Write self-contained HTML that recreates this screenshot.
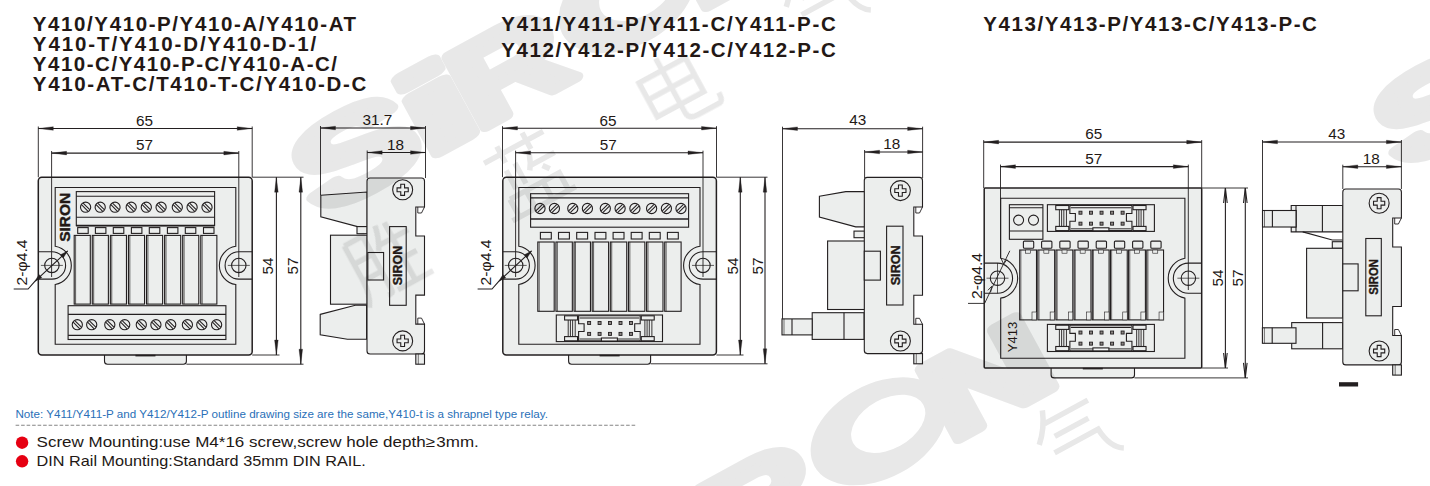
<!DOCTYPE html>
<html><head><meta charset="utf-8"><style>
html,body{margin:0;padding:0;background:#fff;overflow:hidden}
svg{display:block}
text{font-family:"Liberation Sans",sans-serif}
</style></head><body>
<svg width="1430" height="486" viewBox="0 0 1430 486">
<rect width="1430" height="486" fill="#fff"/>
<text x="32.8" y="31.1" font-family="Liberation Sans" font-weight="bold" font-size="20.5" fill="#231815" textLength="323.3" lengthAdjust="spacing">Y410/Y410-P/Y410-A/Y410-AT</text>
<text x="32.8" y="51.1" font-family="Liberation Sans" font-weight="bold" font-size="20.5" fill="#231815" textLength="283.5" lengthAdjust="spacing">Y410-T/Y410-D/Y410-D-1/</text>
<text x="32.8" y="71.3" font-family="Liberation Sans" font-weight="bold" font-size="20.5" fill="#231815" textLength="304.2" lengthAdjust="spacing">Y410-C/Y410-P-C/Y410-A-C/</text>
<text x="32.8" y="91.2" font-family="Liberation Sans" font-weight="bold" font-size="20.5" fill="#231815" textLength="333.4" lengthAdjust="spacing">Y410-AT-C/T410-T-C/Y410-D-C</text>
<text x="501.2" y="31.3" font-family="Liberation Sans" font-weight="bold" font-size="20.5" fill="#231815" textLength="334.6" lengthAdjust="spacing">Y411/Y411-P/Y411-C/Y411-P-C</text>
<text x="501.2" y="56.5" font-family="Liberation Sans" font-weight="bold" font-size="20.5" fill="#231815" textLength="334.6" lengthAdjust="spacing">Y412/Y412-P/Y412-C/Y412-P-C</text>
<text x="983.3" y="31.3" font-family="Liberation Sans" font-weight="bold" font-size="20.5" fill="#231815" textLength="333.6" lengthAdjust="spacing">Y413/Y413-P/Y413-C/Y413-P-C</text>
<path d="M104.5 353 V361.2 Q104.5 364.2 107.5 364.2 H183.4 Q186.4 364.2 186.4 361.2 V353" fill="#eceeed" stroke="#231f20" stroke-width="1.1" />
<rect x="38.3" y="177.2" width="213.9" height="177.8" rx="3.5" fill="#eceeed" stroke="#231f20" stroke-width="1.5"/>
<rect x="135.45" y="354.8" width="20" height="1.6" fill="#231f20" stroke="#231f20" stroke-width="0"/>
<path d="M38.3 251.7 H51.9 A13.7 13.7 0 0 1 51.9 279.1 H38.3" fill="none" stroke="#231f20" stroke-width="1.1" />
<path d="M252.2 251.7 H238.8 A13.7 13.7 0 0 0 238.8 279.1 H252.2" fill="none" stroke="#231f20" stroke-width="1.1" />
<path d="M55.2 187.5 H235.8 V246.23 A19.4 19.4 0 0 0 235.8 284.57 V344.2 H55.2 V284.52 A19.4 19.4 0 0 0 55.2 246.28 Z" fill="#eceeed" stroke="#231f20" stroke-width="1.1" />
<circle cx="51.9" cy="265.4" r="7.2" fill="none" stroke="#231f20" stroke-width="1.1"/>
<line x1="40.9" y1="265.4" x2="62.9" y2="265.4" stroke="#231f20" stroke-width="0.7"/>
<circle cx="238.8" cy="265.4" r="7.2" fill="none" stroke="#231f20" stroke-width="1.1"/>
<line x1="227.8" y1="265.4" x2="249.8" y2="265.4" stroke="#231f20" stroke-width="0.7"/>
<rect x="76.3" y="191.6" width="138.3" height="34" fill="#eceeed" stroke="#231f20" stroke-width="1.1"/>
<line x1="76.3" y1="196.3" x2="214.6" y2="196.3" stroke="#231f20" stroke-width="1.1"/>
<line x1="76.3" y1="217.3" x2="214.6" y2="217.3" stroke="#231f20" stroke-width="1.1"/>
<line x1="76.3" y1="225.6" x2="214.6" y2="225.6" stroke="#231f20" stroke-width="1.6"/>
<circle cx="85.6" cy="207.2" r="5.1" fill="#eceeed" stroke="#231f20" stroke-width="1.1"/>
<line x1="83.11" y1="203.09" x2="89.71" y2="209.69" stroke="#231f20" stroke-width="1.05"/>
<line x1="81.49" y1="204.71" x2="88.09" y2="211.31" stroke="#231f20" stroke-width="1.05"/>
<circle cx="100.2" cy="207.2" r="5.1" fill="#eceeed" stroke="#231f20" stroke-width="1.1"/>
<line x1="97.71" y1="203.09" x2="104.31" y2="209.69" stroke="#231f20" stroke-width="1.05"/>
<line x1="96.09" y1="204.71" x2="102.69" y2="211.31" stroke="#231f20" stroke-width="1.05"/>
<circle cx="115" cy="207.2" r="5.1" fill="#eceeed" stroke="#231f20" stroke-width="1.1"/>
<line x1="112.51" y1="203.09" x2="119.11" y2="209.69" stroke="#231f20" stroke-width="1.05"/>
<line x1="110.89" y1="204.71" x2="117.49" y2="211.31" stroke="#231f20" stroke-width="1.05"/>
<circle cx="131.2" cy="207.2" r="5.1" fill="#eceeed" stroke="#231f20" stroke-width="1.1"/>
<line x1="128.71" y1="203.09" x2="135.31" y2="209.69" stroke="#231f20" stroke-width="1.05"/>
<line x1="127.09" y1="204.71" x2="133.69" y2="211.31" stroke="#231f20" stroke-width="1.05"/>
<circle cx="146.3" cy="207.2" r="5.1" fill="#eceeed" stroke="#231f20" stroke-width="1.1"/>
<line x1="143.81" y1="203.09" x2="150.41" y2="209.69" stroke="#231f20" stroke-width="1.05"/>
<line x1="142.19" y1="204.71" x2="148.79" y2="211.31" stroke="#231f20" stroke-width="1.05"/>
<circle cx="161.1" cy="207.2" r="5.1" fill="#eceeed" stroke="#231f20" stroke-width="1.1"/>
<line x1="158.61" y1="203.09" x2="165.21" y2="209.69" stroke="#231f20" stroke-width="1.05"/>
<line x1="156.99" y1="204.71" x2="163.59" y2="211.31" stroke="#231f20" stroke-width="1.05"/>
<circle cx="177.3" cy="207.2" r="5.1" fill="#eceeed" stroke="#231f20" stroke-width="1.1"/>
<line x1="174.81" y1="203.09" x2="181.41" y2="209.69" stroke="#231f20" stroke-width="1.05"/>
<line x1="173.19" y1="204.71" x2="179.79" y2="211.31" stroke="#231f20" stroke-width="1.05"/>
<circle cx="192.1" cy="207.2" r="5.1" fill="#eceeed" stroke="#231f20" stroke-width="1.1"/>
<line x1="189.61" y1="203.09" x2="196.21" y2="209.69" stroke="#231f20" stroke-width="1.05"/>
<line x1="187.99" y1="204.71" x2="194.59" y2="211.31" stroke="#231f20" stroke-width="1.05"/>
<circle cx="207" cy="207.2" r="5.1" fill="#eceeed" stroke="#231f20" stroke-width="1.1"/>
<line x1="204.51" y1="203.09" x2="211.11" y2="209.69" stroke="#231f20" stroke-width="1.05"/>
<line x1="202.89" y1="204.71" x2="209.49" y2="211.31" stroke="#231f20" stroke-width="1.05"/>
<rect x="77.7" y="227.6" width="10.5" height="5.8" fill="#eceeed" stroke="#231f20" stroke-width="1.1"/>
<rect x="95.4" y="227.6" width="10.5" height="5.8" fill="#eceeed" stroke="#231f20" stroke-width="1.1"/>
<rect x="113.3" y="227.6" width="10.5" height="5.8" fill="#eceeed" stroke="#231f20" stroke-width="1.1"/>
<rect x="131.4" y="227.6" width="10.5" height="5.8" fill="#eceeed" stroke="#231f20" stroke-width="1.1"/>
<rect x="149.3" y="227.6" width="10.5" height="5.8" fill="#eceeed" stroke="#231f20" stroke-width="1.1"/>
<rect x="167.4" y="227.6" width="10.5" height="5.8" fill="#eceeed" stroke="#231f20" stroke-width="1.1"/>
<rect x="185.3" y="227.6" width="10.5" height="5.8" fill="#eceeed" stroke="#231f20" stroke-width="1.1"/>
<rect x="203.5" y="227.6" width="10.5" height="5.8" fill="#eceeed" stroke="#231f20" stroke-width="1.1"/>
<rect x="74.2" y="235.4" width="16.1" height="68.7" fill="#eceeed" stroke="#231f20" stroke-width="1.1"/>
<line x1="75.6" y1="235.4" x2="75.6" y2="304.1" stroke="#231f20" stroke-width="0.7"/>
<rect x="92.28" y="235.4" width="16.1" height="68.7" fill="#eceeed" stroke="#231f20" stroke-width="1.1"/>
<line x1="93.68" y1="235.4" x2="93.68" y2="304.1" stroke="#231f20" stroke-width="0.7"/>
<rect x="110.36" y="235.4" width="16.1" height="68.7" fill="#eceeed" stroke="#231f20" stroke-width="1.1"/>
<line x1="111.76" y1="235.4" x2="111.76" y2="304.1" stroke="#231f20" stroke-width="0.7"/>
<rect x="128.44" y="235.4" width="16.1" height="68.7" fill="#eceeed" stroke="#231f20" stroke-width="1.1"/>
<line x1="129.84" y1="235.4" x2="129.84" y2="304.1" stroke="#231f20" stroke-width="0.7"/>
<rect x="146.52" y="235.4" width="16.1" height="68.7" fill="#eceeed" stroke="#231f20" stroke-width="1.1"/>
<line x1="147.92" y1="235.4" x2="147.92" y2="304.1" stroke="#231f20" stroke-width="0.7"/>
<rect x="164.6" y="235.4" width="16.1" height="68.7" fill="#eceeed" stroke="#231f20" stroke-width="1.1"/>
<line x1="166" y1="235.4" x2="166" y2="304.1" stroke="#231f20" stroke-width="0.7"/>
<rect x="182.68" y="235.4" width="16.1" height="68.7" fill="#eceeed" stroke="#231f20" stroke-width="1.1"/>
<line x1="184.08" y1="235.4" x2="184.08" y2="304.1" stroke="#231f20" stroke-width="0.7"/>
<rect x="200.76" y="235.4" width="16.1" height="68.7" fill="#eceeed" stroke="#231f20" stroke-width="1.1"/>
<line x1="202.16" y1="235.4" x2="202.16" y2="304.1" stroke="#231f20" stroke-width="0.7"/>
<rect x="68.1" y="305.7" width="157.8" height="33.8" fill="#eceeed" stroke="#231f20" stroke-width="1.1"/>
<line x1="68.1" y1="314.4" x2="225.9" y2="314.4" stroke="#231f20" stroke-width="1.1"/>
<line x1="68.1" y1="335.4" x2="225.9" y2="335.4" stroke="#231f20" stroke-width="1.1"/>
<circle cx="77.3" cy="324.7" r="5.1" fill="#eceeed" stroke="#231f20" stroke-width="1.1"/>
<line x1="74.81" y1="320.59" x2="81.41" y2="327.19" stroke="#231f20" stroke-width="1.05"/>
<line x1="73.19" y1="322.21" x2="79.79" y2="328.81" stroke="#231f20" stroke-width="1.05"/>
<circle cx="91.7" cy="324.7" r="5.1" fill="#eceeed" stroke="#231f20" stroke-width="1.1"/>
<line x1="89.21" y1="320.59" x2="95.81" y2="327.19" stroke="#231f20" stroke-width="1.05"/>
<line x1="87.59" y1="322.21" x2="94.19" y2="328.81" stroke="#231f20" stroke-width="1.05"/>
<circle cx="109.8" cy="324.7" r="5.1" fill="#eceeed" stroke="#231f20" stroke-width="1.1"/>
<line x1="107.31" y1="320.59" x2="113.91" y2="327.19" stroke="#231f20" stroke-width="1.05"/>
<line x1="105.69" y1="322.21" x2="112.29" y2="328.81" stroke="#231f20" stroke-width="1.05"/>
<circle cx="124.7" cy="324.7" r="5.1" fill="#eceeed" stroke="#231f20" stroke-width="1.1"/>
<line x1="122.21" y1="320.59" x2="128.81" y2="327.19" stroke="#231f20" stroke-width="1.05"/>
<line x1="120.59" y1="322.21" x2="127.19" y2="328.81" stroke="#231f20" stroke-width="1.05"/>
<circle cx="141.3" cy="324.7" r="5.1" fill="#eceeed" stroke="#231f20" stroke-width="1.1"/>
<line x1="138.81" y1="320.59" x2="145.41" y2="327.19" stroke="#231f20" stroke-width="1.05"/>
<line x1="137.19" y1="322.21" x2="143.79" y2="328.81" stroke="#231f20" stroke-width="1.05"/>
<circle cx="155.9" cy="324.7" r="5.1" fill="#eceeed" stroke="#231f20" stroke-width="1.1"/>
<line x1="153.41" y1="320.59" x2="160.01" y2="327.19" stroke="#231f20" stroke-width="1.05"/>
<line x1="151.79" y1="322.21" x2="158.39" y2="328.81" stroke="#231f20" stroke-width="1.05"/>
<circle cx="170.7" cy="324.7" r="5.1" fill="#eceeed" stroke="#231f20" stroke-width="1.1"/>
<line x1="168.21" y1="320.59" x2="174.81" y2="327.19" stroke="#231f20" stroke-width="1.05"/>
<line x1="166.59" y1="322.21" x2="173.19" y2="328.81" stroke="#231f20" stroke-width="1.05"/>
<circle cx="187.4" cy="324.7" r="5.1" fill="#eceeed" stroke="#231f20" stroke-width="1.1"/>
<line x1="184.91" y1="320.59" x2="191.51" y2="327.19" stroke="#231f20" stroke-width="1.05"/>
<line x1="183.29" y1="322.21" x2="189.89" y2="328.81" stroke="#231f20" stroke-width="1.05"/>
<circle cx="201.8" cy="324.7" r="5.1" fill="#eceeed" stroke="#231f20" stroke-width="1.1"/>
<line x1="199.31" y1="320.59" x2="205.91" y2="327.19" stroke="#231f20" stroke-width="1.05"/>
<line x1="197.69" y1="322.21" x2="204.29" y2="328.81" stroke="#231f20" stroke-width="1.05"/>
<circle cx="216.6" cy="324.7" r="5.1" fill="#eceeed" stroke="#231f20" stroke-width="1.1"/>
<line x1="214.11" y1="320.59" x2="220.71" y2="327.19" stroke="#231f20" stroke-width="1.05"/>
<line x1="212.49" y1="322.21" x2="219.09" y2="328.81" stroke="#231f20" stroke-width="1.05"/>
<text x="70.2" y="217.3" font-family="Liberation Sans" font-size="14.2" font-weight="bold" text-anchor="middle" fill="#231815" transform="rotate(-90 70.2 217.3)" textLength="49" lengthAdjust="spacingAndGlyphs" stroke="#231815" stroke-width="0.4">SIRON</text>
<line x1="38.3" y1="126.5" x2="38.3" y2="177.2" stroke="#231f20" stroke-width="0.9"/>
<line x1="252.2" y1="126.5" x2="252.2" y2="177.2" stroke="#231f20" stroke-width="0.9"/>
<line x1="38.3" y1="128.5" x2="252.2" y2="128.5" stroke="#231f20" stroke-width="1.1"/>
<path d="M38.3 128.5 L53.3 126.7 L53.3 130.3 Z" fill="#231f20" stroke="#231f20" stroke-width="0.3" />
<path d="M252.2 128.5 L237.2 130.3 L237.2 126.7 Z" fill="#231f20" stroke="#231f20" stroke-width="0.3" />
<text x="144.4" y="125.7" font-family="Liberation Sans" font-size="15.3" font-weight="normal" text-anchor="middle" fill="#231815" >65</text>
<line x1="51.6" y1="151" x2="51.6" y2="277" stroke="#231f20" stroke-width="0.9"/>
<line x1="238.8" y1="151" x2="238.8" y2="277" stroke="#231f20" stroke-width="0.9"/>
<line x1="51.6" y1="153.1" x2="238.8" y2="153.1" stroke="#231f20" stroke-width="1.1"/>
<path d="M51.6 153.1 L66.6 151.3 L66.6 154.9 Z" fill="#231f20" stroke="#231f20" stroke-width="0.3" />
<path d="M238.8 153.1 L223.8 154.9 L223.8 151.3 Z" fill="#231f20" stroke="#231f20" stroke-width="0.3" />
<text x="144.4" y="149.8" font-family="Liberation Sans" font-size="15.3" font-weight="normal" text-anchor="middle" fill="#231815" >57</text>
<line x1="252.2" y1="177.2" x2="303.5" y2="177.2" stroke="#231f20" stroke-width="0.9"/>
<line x1="252.2" y1="355" x2="279.5" y2="355" stroke="#231f20" stroke-width="0.9"/>
<line x1="186.4" y1="364.2" x2="303.5" y2="364.2" stroke="#231f20" stroke-width="0.9"/>
<line x1="276.4" y1="177.2" x2="276.4" y2="355" stroke="#231f20" stroke-width="1.1"/>
<path d="M276.4 177.2 L278.2 192.2 L274.6 192.2 Z" fill="#231f20" stroke="#231f20" stroke-width="0.3" />
<path d="M276.4 355 L274.6 340 L278.2 340 Z" fill="#231f20" stroke="#231f20" stroke-width="0.3" />
<text x="273.2" y="266" font-family="Liberation Sans" font-size="15.3" font-weight="normal" text-anchor="middle" fill="#231815" transform="rotate(-90 273.2 266)" >54</text>
<line x1="300.8" y1="177.2" x2="300.8" y2="364.2" stroke="#231f20" stroke-width="1.1"/>
<path d="M300.8 177.2 L302.6 192.2 L299 192.2 Z" fill="#231f20" stroke="#231f20" stroke-width="0.3" />
<path d="M300.8 364.2 L299 349.2 L302.6 349.2 Z" fill="#231f20" stroke="#231f20" stroke-width="0.3" />
<text x="297.6" y="266" font-family="Liberation Sans" font-size="15.3" font-weight="normal" text-anchor="middle" fill="#231815" transform="rotate(-90 297.6 266)" >57</text>
<path d="M67.7 250.9 L34.6 281.6 L28.1 289 H13.7" fill="none" stroke="#231f20" stroke-width="1.1" />
<path d="M67.7 250.9 L63.26 257.88 L60.41 254.8 Z" fill="#231f20" stroke="#231f20" stroke-width="0.3" />
<path d="M34.6 281.6 L39.04 274.62 L41.89 277.7 Z" fill="#231f20" stroke="#231f20" stroke-width="0.3" />
<text x="27.3" y="262.4" font-family="Liberation Sans" font-size="14.5" font-weight="normal" text-anchor="middle" fill="#231815" transform="rotate(-90 27.3 262.4)" textLength="46" lengthAdjust="spacingAndGlyphs">2-φ4.4</text>
<line x1="320.5" y1="126" x2="320.5" y2="195.2" stroke="#231f20" stroke-width="0.9"/>
<line x1="425.5" y1="126" x2="425.5" y2="178" stroke="#231f20" stroke-width="0.9"/>
<line x1="320.5" y1="128" x2="425.5" y2="128" stroke="#231f20" stroke-width="1.1"/>
<path d="M320.5 128 L335.5 126.2 L335.5 129.8 Z" fill="#231f20" stroke="#231f20" stroke-width="0.3" />
<path d="M425.5 128 L410.5 129.8 L410.5 126.2 Z" fill="#231f20" stroke="#231f20" stroke-width="0.3" />
<text x="377.3" y="125.2" font-family="Liberation Sans" font-size="15.3" font-weight="normal" text-anchor="middle" fill="#231815" >31.7</text>
<line x1="367.2" y1="150.5" x2="367.2" y2="178" stroke="#231f20" stroke-width="0.9"/>
<line x1="367.2" y1="152.5" x2="425.5" y2="152.5" stroke="#231f20" stroke-width="1.1"/>
<path d="M367.2 152.5 L382.2 150.7 L382.2 154.3 Z" fill="#231f20" stroke="#231f20" stroke-width="0.3" />
<path d="M425.5 152.5 L410.5 154.3 L410.5 150.7 Z" fill="#231f20" stroke="#231f20" stroke-width="0.3" />
<text x="395.4" y="149.8" font-family="Liberation Sans" font-size="15.3" font-weight="normal" text-anchor="middle" fill="#231815" >18</text>
<path d="M320.8 195.2 L367.2 192 V226.6 H357.5 L320.8 216.8 Z" fill="#eceeed" stroke="#231f20" stroke-width="1.1" />
<rect x="357" y="226.6" width="10.2" height="7.1" fill="#eceeed" stroke="#231f20" stroke-width="1.1"/>
<rect x="330.5" y="235.2" width="36.7" height="69" fill="#eceeed" stroke="#231f20" stroke-width="1.1"/>
<path d="M320.2 314.4 L355.3 305.3 H366.6 V339.3 H347.4 L320.2 334.7 Z" fill="#eceeed" stroke="#231f20" stroke-width="1.1" />
<path d="M367 181 Q367 178 370 178 H421.5 Q424.5 178 424.5 181 V207 H415.8 V236 H424.5 V295.1 H415.8 V324.1 H424.5 V351 Q424.5 354 421.5 354 H370 Q367 354 367 351 Z" fill="#eceeed" stroke="#231f20" stroke-width="1.1" />
<path d="M424.5 207 L421.5 213 L417.8 213 L417.8 207" fill="none" stroke="#231f20" stroke-width="0.9" />
<path d="M424.5 324.1 L421.5 318.1 L417.8 318.1 L417.8 324.1" fill="none" stroke="#231f20" stroke-width="0.9" />
<rect x="415.8" y="354" width="8.7" height="10.2" fill="#eceeed" stroke="#231f20" stroke-width="1.1"/>
<line x1="418.3" y1="354" x2="418.3" y2="364.2" stroke="#231f20" stroke-width="0.6"/>
<circle cx="402.65" cy="189.8" r="10" fill="#eceeed" stroke="#231f20" stroke-width="1.1"/>
<path d="M400.75 184.2 H404.55 V187.9 H408.25 V191.7 H404.55 V195.4 H400.75 V191.7 H397.05 V187.9 H400.75 Z" fill="none" stroke="#231f20" stroke-width="1.1" />
<circle cx="402.65" cy="340.9" r="10" fill="#eceeed" stroke="#231f20" stroke-width="1.1"/>
<path d="M400.75 335.3 H404.55 V339 H408.25 V342.8 H404.55 V346.5 H400.75 V342.8 H397.05 V339 H400.75 Z" fill="none" stroke="#231f20" stroke-width="1.1" />
<rect x="367.8" y="252.5" width="15.8" height="27.5" fill="#eceeed" stroke="#231f20" stroke-width="1.1"/>
<rect x="389.6" y="226.6" width="16.6" height="78.7" fill="#eceeed" stroke="#231f20" stroke-width="1.1"/>
<text x="402.3" y="265.5" font-family="Liberation Sans" font-size="12.5" font-weight="bold" text-anchor="middle" fill="#231815" transform="rotate(-90 402.3 265.5)" textLength="39.5" lengthAdjust="spacingAndGlyphs" stroke="#231815" stroke-width="0.35">SIRON</text>
<path d="M568.6 353 V361.2 Q568.6 364.2 571.6 364.2 H647.6 Q650.6 364.2 650.6 361.2 V353" fill="#eceeed" stroke="#231f20" stroke-width="1.1" />
<rect x="502.8" y="177.2" width="213.6" height="177.8" rx="3.5" fill="#eceeed" stroke="#231f20" stroke-width="1.5"/>
<rect x="599.6" y="354.8" width="20" height="1.6" fill="#231f20" stroke="#231f20" stroke-width="0"/>
<path d="M502.8 251.7 H515.7 A13.7 13.7 0 0 1 515.7 279.1 H502.8" fill="none" stroke="#231f20" stroke-width="1.1" />
<path d="M716.4 251.7 H703 A13.7 13.7 0 0 0 703 279.1 H716.4" fill="none" stroke="#231f20" stroke-width="1.1" />
<path d="M518.8 187.5 H700 V246.23 A19.4 19.4 0 0 0 700 284.57 V344.3 H518.8 V284.55 A19.4 19.4 0 0 0 518.8 246.25 Z" fill="#eceeed" stroke="#231f20" stroke-width="1.1" />
<circle cx="515.7" cy="265.4" r="7.2" fill="none" stroke="#231f20" stroke-width="1.1"/>
<line x1="504.7" y1="265.4" x2="526.7" y2="265.4" stroke="#231f20" stroke-width="0.7"/>
<circle cx="703" cy="265.4" r="7.2" fill="none" stroke="#231f20" stroke-width="1.1"/>
<line x1="692" y1="265.4" x2="714" y2="265.4" stroke="#231f20" stroke-width="0.7"/>
<rect x="530.6" y="193.7" width="158" height="33.5" fill="#eceeed" stroke="#231f20" stroke-width="1.1"/>
<line x1="530.6" y1="197.8" x2="688.6" y2="197.8" stroke="#231f20" stroke-width="1.3"/>
<line x1="530.6" y1="219" x2="688.6" y2="219" stroke="#231f20" stroke-width="1.3"/>
<circle cx="540" cy="208.5" r="5.1" fill="#eceeed" stroke="#231f20" stroke-width="1.1"/>
<line x1="535.89" y1="210.99" x2="542.49" y2="204.39" stroke="#231f20" stroke-width="1.05"/>
<line x1="537.51" y1="212.61" x2="544.11" y2="206.01" stroke="#231f20" stroke-width="1.05"/>
<circle cx="554.4" cy="208.5" r="5.1" fill="#eceeed" stroke="#231f20" stroke-width="1.1"/>
<line x1="550.29" y1="210.99" x2="556.89" y2="204.39" stroke="#231f20" stroke-width="1.05"/>
<line x1="551.91" y1="212.61" x2="558.51" y2="206.01" stroke="#231f20" stroke-width="1.05"/>
<circle cx="572.8" cy="208.5" r="5.1" fill="#eceeed" stroke="#231f20" stroke-width="1.1"/>
<line x1="568.69" y1="210.99" x2="575.29" y2="204.39" stroke="#231f20" stroke-width="1.05"/>
<line x1="570.31" y1="212.61" x2="576.91" y2="206.01" stroke="#231f20" stroke-width="1.05"/>
<circle cx="587.4" cy="208.5" r="5.1" fill="#eceeed" stroke="#231f20" stroke-width="1.1"/>
<line x1="583.29" y1="210.99" x2="589.89" y2="204.39" stroke="#231f20" stroke-width="1.05"/>
<line x1="584.91" y1="212.61" x2="591.51" y2="206.01" stroke="#231f20" stroke-width="1.05"/>
<circle cx="605.3" cy="208.5" r="5.1" fill="#eceeed" stroke="#231f20" stroke-width="1.1"/>
<line x1="601.19" y1="210.99" x2="607.79" y2="204.39" stroke="#231f20" stroke-width="1.05"/>
<line x1="602.81" y1="212.61" x2="609.41" y2="206.01" stroke="#231f20" stroke-width="1.05"/>
<circle cx="620.1" cy="208.5" r="5.1" fill="#eceeed" stroke="#231f20" stroke-width="1.1"/>
<line x1="615.99" y1="210.99" x2="622.59" y2="204.39" stroke="#231f20" stroke-width="1.05"/>
<line x1="617.61" y1="212.61" x2="624.21" y2="206.01" stroke="#231f20" stroke-width="1.05"/>
<circle cx="634.9" cy="208.5" r="5.1" fill="#eceeed" stroke="#231f20" stroke-width="1.1"/>
<line x1="630.79" y1="210.99" x2="637.39" y2="204.39" stroke="#231f20" stroke-width="1.05"/>
<line x1="632.41" y1="212.61" x2="639.01" y2="206.01" stroke="#231f20" stroke-width="1.05"/>
<circle cx="651.6" cy="208.5" r="5.1" fill="#eceeed" stroke="#231f20" stroke-width="1.1"/>
<line x1="647.49" y1="210.99" x2="654.09" y2="204.39" stroke="#231f20" stroke-width="1.05"/>
<line x1="649.11" y1="212.61" x2="655.71" y2="206.01" stroke="#231f20" stroke-width="1.05"/>
<circle cx="666.4" cy="208.5" r="5.1" fill="#eceeed" stroke="#231f20" stroke-width="1.1"/>
<line x1="662.29" y1="210.99" x2="668.89" y2="204.39" stroke="#231f20" stroke-width="1.05"/>
<line x1="663.91" y1="212.61" x2="670.51" y2="206.01" stroke="#231f20" stroke-width="1.05"/>
<circle cx="681" cy="208.5" r="5.1" fill="#eceeed" stroke="#231f20" stroke-width="1.1"/>
<line x1="676.89" y1="210.99" x2="683.49" y2="204.39" stroke="#231f20" stroke-width="1.05"/>
<line x1="678.51" y1="212.61" x2="685.11" y2="206.01" stroke="#231f20" stroke-width="1.05"/>
<rect x="540.4" y="232.4" width="10.9" height="6.6" fill="#eceeed" stroke="#231f20" stroke-width="1.1"/>
<rect x="558.5" y="232.4" width="10.9" height="6.6" fill="#eceeed" stroke="#231f20" stroke-width="1.1"/>
<rect x="576.7" y="232.4" width="10.9" height="6.6" fill="#eceeed" stroke="#231f20" stroke-width="1.1"/>
<rect x="595" y="232.4" width="10.9" height="6.6" fill="#eceeed" stroke="#231f20" stroke-width="1.1"/>
<rect x="613.1" y="232.4" width="10.9" height="6.6" fill="#eceeed" stroke="#231f20" stroke-width="1.1"/>
<rect x="631.2" y="232.4" width="10.9" height="6.6" fill="#eceeed" stroke="#231f20" stroke-width="1.1"/>
<rect x="649.3" y="232.4" width="10.9" height="6.6" fill="#eceeed" stroke="#231f20" stroke-width="1.1"/>
<rect x="667.4" y="232.4" width="10.9" height="6.6" fill="#eceeed" stroke="#231f20" stroke-width="1.1"/>
<rect x="537.8" y="242" width="16.4" height="69.3" fill="#eceeed" stroke="#231f20" stroke-width="1.1"/>
<line x1="539.2" y1="242" x2="539.2" y2="311.3" stroke="#231f20" stroke-width="0.7"/>
<rect x="555.93" y="242" width="16.4" height="69.3" fill="#eceeed" stroke="#231f20" stroke-width="1.1"/>
<line x1="557.33" y1="242" x2="557.33" y2="311.3" stroke="#231f20" stroke-width="0.7"/>
<rect x="574.06" y="242" width="16.4" height="69.3" fill="#eceeed" stroke="#231f20" stroke-width="1.1"/>
<line x1="575.46" y1="242" x2="575.46" y2="311.3" stroke="#231f20" stroke-width="0.7"/>
<rect x="592.19" y="242" width="16.4" height="69.3" fill="#eceeed" stroke="#231f20" stroke-width="1.1"/>
<line x1="593.59" y1="242" x2="593.59" y2="311.3" stroke="#231f20" stroke-width="0.7"/>
<rect x="610.32" y="242" width="16.4" height="69.3" fill="#eceeed" stroke="#231f20" stroke-width="1.1"/>
<line x1="611.72" y1="242" x2="611.72" y2="311.3" stroke="#231f20" stroke-width="0.7"/>
<rect x="628.45" y="242" width="16.4" height="69.3" fill="#eceeed" stroke="#231f20" stroke-width="1.1"/>
<line x1="629.85" y1="242" x2="629.85" y2="311.3" stroke="#231f20" stroke-width="0.7"/>
<rect x="646.58" y="242" width="16.4" height="69.3" fill="#eceeed" stroke="#231f20" stroke-width="1.1"/>
<line x1="647.98" y1="242" x2="647.98" y2="311.3" stroke="#231f20" stroke-width="0.7"/>
<rect x="664.71" y="242" width="16.4" height="69.3" fill="#eceeed" stroke="#231f20" stroke-width="1.1"/>
<line x1="666.11" y1="242" x2="666.11" y2="311.3" stroke="#231f20" stroke-width="0.7"/>
<rect x="556.3" y="315" width="106.2" height="26.6" fill="#eceeed" stroke="#231f20" stroke-width="1.1"/>
<rect x="564.58" y="315.8" width="12.96" height="4.2" fill="#eceeed" stroke="#231f20" stroke-width="1.1"/>
<rect x="564.58" y="336.6" width="12.96" height="4.2" fill="#eceeed" stroke="#231f20" stroke-width="1.1"/>
<line x1="568.21" y1="320" x2="568.21" y2="336.6" stroke="#231f20" stroke-width="0.9"/>
<line x1="570.41" y1="320" x2="570.41" y2="336.6" stroke="#231f20" stroke-width="0.9"/>
<line x1="572.62" y1="320" x2="572.62" y2="336.6" stroke="#231f20" stroke-width="0.9"/>
<line x1="575.21" y1="320" x2="575.21" y2="336.6" stroke="#231f20" stroke-width="0.9"/>
<rect x="641.26" y="315.8" width="12.96" height="4.2" fill="#eceeed" stroke="#231f20" stroke-width="1.1"/>
<rect x="641.26" y="336.6" width="12.96" height="4.2" fill="#eceeed" stroke="#231f20" stroke-width="1.1"/>
<line x1="644.89" y1="320" x2="644.89" y2="336.6" stroke="#231f20" stroke-width="0.9"/>
<line x1="647.09" y1="320" x2="647.09" y2="336.6" stroke="#231f20" stroke-width="0.9"/>
<line x1="649.29" y1="320" x2="649.29" y2="336.6" stroke="#231f20" stroke-width="0.9"/>
<line x1="651.88" y1="320" x2="651.88" y2="336.6" stroke="#231f20" stroke-width="0.9"/>
<path d="M578.6 315.8 H640.2 V323.78 H634.7 V331.49 H640.2 V340.8 H578.6 V331.49 H584.1 V323.78 H578.6 Z" fill="#eceeed" stroke="#231f20" stroke-width="1.1" />
<line x1="579.6" y1="318" x2="639.2" y2="318" stroke="#231f20" stroke-width="1.1"/>
<line x1="579.6" y1="339" x2="639.2" y2="339" stroke="#231f20" stroke-width="0.9"/>
<rect x="601.4" y="338" width="16" height="3" fill="#f6f7f7" stroke="#231f20" stroke-width="1.1"/>
<rect x="587.62" y="321.48" width="3" height="3" fill="#8c8784" stroke="#231f20" stroke-width="0.9"/>
<rect x="587.62" y="332.39" width="3" height="3" fill="#8c8784" stroke="#231f20" stroke-width="0.9"/>
<rect x="598.08" y="321.48" width="3" height="3" fill="#8c8784" stroke="#231f20" stroke-width="0.9"/>
<rect x="598.08" y="332.39" width="3" height="3" fill="#8c8784" stroke="#231f20" stroke-width="0.9"/>
<rect x="608.54" y="321.48" width="3" height="3" fill="#8c8784" stroke="#231f20" stroke-width="0.9"/>
<rect x="608.54" y="332.39" width="3" height="3" fill="#8c8784" stroke="#231f20" stroke-width="0.9"/>
<rect x="619" y="321.48" width="3" height="3" fill="#8c8784" stroke="#231f20" stroke-width="0.9"/>
<rect x="619" y="332.39" width="3" height="3" fill="#8c8784" stroke="#231f20" stroke-width="0.9"/>
<rect x="629.46" y="321.48" width="3" height="3" fill="#8c8784" stroke="#231f20" stroke-width="0.9"/>
<rect x="629.46" y="332.39" width="3" height="3" fill="#8c8784" stroke="#231f20" stroke-width="0.9"/>
<line x1="502.5" y1="126.2" x2="502.5" y2="177.2" stroke="#231f20" stroke-width="0.9"/>
<line x1="716.5" y1="126.2" x2="716.5" y2="177.2" stroke="#231f20" stroke-width="0.9"/>
<line x1="502.5" y1="128.2" x2="716.5" y2="128.2" stroke="#231f20" stroke-width="1.1"/>
<path d="M502.5 128.2 L517.5 126.4 L517.5 130 Z" fill="#231f20" stroke="#231f20" stroke-width="0.3" />
<path d="M716.5 128.2 L701.5 130 L701.5 126.4 Z" fill="#231f20" stroke="#231f20" stroke-width="0.3" />
<text x="608" y="126" font-family="Liberation Sans" font-size="15.3" font-weight="normal" text-anchor="middle" fill="#231815" >65</text>
<line x1="515.6" y1="150.7" x2="515.6" y2="277" stroke="#231f20" stroke-width="0.9"/>
<line x1="703" y1="150.7" x2="703" y2="277" stroke="#231f20" stroke-width="0.9"/>
<line x1="515.6" y1="152.7" x2="703" y2="152.7" stroke="#231f20" stroke-width="1.1"/>
<path d="M515.6 152.7 L530.6 150.9 L530.6 154.5 Z" fill="#231f20" stroke="#231f20" stroke-width="0.3" />
<path d="M703 152.7 L688 154.5 L688 150.9 Z" fill="#231f20" stroke="#231f20" stroke-width="0.3" />
<text x="608.2" y="149.9" font-family="Liberation Sans" font-size="15.3" font-weight="normal" text-anchor="middle" fill="#231815" >57</text>
<line x1="716.4" y1="177.2" x2="767.5" y2="177.2" stroke="#231f20" stroke-width="0.9"/>
<line x1="716.4" y1="355" x2="743.5" y2="355" stroke="#231f20" stroke-width="0.9"/>
<line x1="650.6" y1="363.8" x2="767.5" y2="363.8" stroke="#231f20" stroke-width="0.9"/>
<line x1="740.3" y1="177.2" x2="740.3" y2="355" stroke="#231f20" stroke-width="1.1"/>
<path d="M740.3 177.2 L742.1 192.2 L738.5 192.2 Z" fill="#231f20" stroke="#231f20" stroke-width="0.3" />
<path d="M740.3 355 L738.5 340 L742.1 340 Z" fill="#231f20" stroke="#231f20" stroke-width="0.3" />
<text x="737.8" y="266" font-family="Liberation Sans" font-size="15.3" font-weight="normal" text-anchor="middle" fill="#231815" transform="rotate(-90 737.8 266)" >54</text>
<line x1="765" y1="177.2" x2="765" y2="363.8" stroke="#231f20" stroke-width="1.1"/>
<path d="M765 177.2 L766.8 192.2 L763.2 192.2 Z" fill="#231f20" stroke="#231f20" stroke-width="0.3" />
<path d="M765 363.8 L763.2 348.8 L766.8 348.8 Z" fill="#231f20" stroke="#231f20" stroke-width="0.3" />
<text x="762.5" y="266" font-family="Liberation Sans" font-size="15.3" font-weight="normal" text-anchor="middle" fill="#231815" transform="rotate(-90 762.5 266)" >57</text>
<path d="M531.6 250.9 L498.5 281.6 L492 289 H477.6" fill="none" stroke="#231f20" stroke-width="1.1" />
<path d="M531.6 250.9 L527.16 257.88 L524.31 254.8 Z" fill="#231f20" stroke="#231f20" stroke-width="0.3" />
<path d="M498.5 281.6 L502.94 274.62 L505.79 277.7 Z" fill="#231f20" stroke="#231f20" stroke-width="0.3" />
<text x="491.2" y="262.4" font-family="Liberation Sans" font-size="14.5" font-weight="normal" text-anchor="middle" fill="#231815" transform="rotate(-90 491.2 262.4)" textLength="46" lengthAdjust="spacingAndGlyphs">2-φ4.4</text>
<line x1="782.5" y1="126.7" x2="782.5" y2="334" stroke="#231f20" stroke-width="0.9"/>
<line x1="922.6" y1="126.7" x2="922.6" y2="178" stroke="#231f20" stroke-width="0.9"/>
<line x1="782.5" y1="128.7" x2="922.6" y2="128.7" stroke="#231f20" stroke-width="1.1"/>
<path d="M782.5 128.7 L797.5 126.9 L797.5 130.5 Z" fill="#231f20" stroke="#231f20" stroke-width="0.3" />
<path d="M922.6 128.7 L907.6 130.5 L907.6 126.9 Z" fill="#231f20" stroke="#231f20" stroke-width="0.3" />
<text x="857.8" y="124.7" font-family="Liberation Sans" font-size="15.3" font-weight="normal" text-anchor="middle" fill="#231815" >43</text>
<line x1="864.6" y1="150" x2="864.6" y2="178" stroke="#231f20" stroke-width="0.9"/>
<line x1="864.6" y1="152" x2="922.6" y2="152" stroke="#231f20" stroke-width="1.1"/>
<path d="M864.6 152 L879.6 150.2 L879.6 153.8 Z" fill="#231f20" stroke="#231f20" stroke-width="0.3" />
<path d="M922.6 152 L907.6 153.8 L907.6 150.2 Z" fill="#231f20" stroke="#231f20" stroke-width="0.3" />
<text x="891.8" y="149.2" font-family="Liberation Sans" font-size="15.3" font-weight="normal" text-anchor="middle" fill="#231815" >18</text>
<path d="M819.4 196.2 L845.8 191.6 H864.6 V226.9 H855.7 L819.4 217 Z" fill="#eceeed" stroke="#231f20" stroke-width="1.1" />
<rect x="854" y="231.1" width="10.6" height="6.6" fill="#eceeed" stroke="#231f20" stroke-width="1.1"/>
<rect x="827.6" y="241" width="37" height="68.5" fill="#eceeed" stroke="#231f20" stroke-width="1.1"/>
<rect x="812.2" y="312.7" width="51.9" height="26.7" fill="#eceeed" stroke="#231f20" stroke-width="1.1"/>
<line x1="844" y1="312.7" x2="844" y2="339.4" stroke="#231f20" stroke-width="1.1"/>
<rect x="782" y="318.9" width="30.2" height="16" fill="#eceeed" stroke="#231f20" stroke-width="1.1"/>
<line x1="792" y1="318.9" x2="792" y2="334.9" stroke="#231f20" stroke-width="1.1"/>
<line x1="784" y1="318.9" x2="784" y2="334.9" stroke="#231f20" stroke-width="0.6"/>
<path d="M864.3 180.4 Q864.3 177.4 867.3 177.4 H919.5 Q922.5 177.4 922.5 180.4 V207 H913.8 V236 H922.5 V295.3 H913.8 V324.3 H922.5 V350.6 Q922.5 353.6 919.5 353.6 H867.3 Q864.3 353.6 864.3 350.6 Z" fill="#eceeed" stroke="#231f20" stroke-width="1.1" />
<path d="M922.5 207 L919.5 213 L915.8 213 L915.8 207" fill="none" stroke="#231f20" stroke-width="0.9" />
<path d="M922.5 324.3 L919.5 318.3 L915.8 318.3 L915.8 324.3" fill="none" stroke="#231f20" stroke-width="0.9" />
<rect x="913.8" y="353.6" width="8.7" height="10.2" fill="#eceeed" stroke="#231f20" stroke-width="1.1"/>
<line x1="916.3" y1="353.6" x2="916.3" y2="363.8" stroke="#231f20" stroke-width="0.6"/>
<circle cx="900.38" cy="190.6" r="10" fill="#eceeed" stroke="#231f20" stroke-width="1.1"/>
<path d="M898.48 185 H902.28 V188.7 H905.98 V192.5 H902.28 V196.2 H898.48 V192.5 H894.78 V188.7 H898.48 Z" fill="none" stroke="#231f20" stroke-width="1.1" />
<circle cx="900.38" cy="341" r="10" fill="#eceeed" stroke="#231f20" stroke-width="1.1"/>
<path d="M898.48 335.4 H902.28 V339.1 H905.98 V342.9 H902.28 V346.6 H898.48 V342.9 H894.78 V339.1 H898.48 Z" fill="none" stroke="#231f20" stroke-width="1.1" />
<rect x="864.3" y="251.2" width="16.1" height="28.9" fill="#eceeed" stroke="#231f20" stroke-width="1.1"/>
<rect x="886.6" y="226.2" width="16.4" height="78.8" fill="#eceeed" stroke="#231f20" stroke-width="1.1"/>
<text x="899.6" y="265.3" font-family="Liberation Sans" font-size="12.5" font-weight="bold" text-anchor="middle" fill="#231815" transform="rotate(-90 899.6 265.3)" textLength="40" lengthAdjust="spacingAndGlyphs" stroke="#231815" stroke-width="0.35">SIRON</text>
<path d="M1051.1 366 V374.9 Q1051.1 377.9 1054.1 377.9 H1131.5 Q1134.5 377.9 1134.5 374.9 V366" fill="#eceeed" stroke="#231f20" stroke-width="1.1" />
<rect x="984.2" y="188" width="217.5" height="180" rx="1" fill="#eceeed" stroke="#231f20" stroke-width="1.5"/>
<rect x="1082.8" y="367.8" width="20" height="1.6" fill="#231f20" stroke="#231f20" stroke-width="0"/>
<path d="M984.2 263.1 H997.5 A15.1 15.1 0 0 1 997.5 293.3 H984.2" fill="none" stroke="#231f20" stroke-width="1.1" />
<path d="M1201.7 263.1 H1188.4 A15.1 15.1 0 0 0 1188.4 293.3 H1201.7" fill="none" stroke="#231f20" stroke-width="1.1" />
<path d="M1000.7 198.3 H1184.9 V258.31 A20.2 20.2 0 0 0 1184.9 298.09 V358.3 H1000.7 V298.14 A20.2 20.2 0 0 0 1000.7 258.26 Z" fill="#eceeed" stroke="#231f20" stroke-width="1.1" />
<circle cx="997.5" cy="278.2" r="7.2" fill="none" stroke="#231f20" stroke-width="1.1"/>
<line x1="986.5" y1="278.2" x2="1008.5" y2="278.2" stroke="#231f20" stroke-width="0.7"/>
<circle cx="1188.4" cy="278.2" r="7.2" fill="none" stroke="#231f20" stroke-width="1.1"/>
<line x1="1177.4" y1="278.2" x2="1199.4" y2="278.2" stroke="#231f20" stroke-width="0.7"/>
<rect x="1009.4" y="204.7" width="33.5" height="34.6" fill="#eceeed" stroke="#231f20" stroke-width="1.1"/>
<line x1="1009.4" y1="207.8" x2="1042.9" y2="207.8" stroke="#231f20" stroke-width="1.1"/>
<line x1="1009.4" y1="231" x2="1042.9" y2="231" stroke="#231f20" stroke-width="1.1"/>
<circle cx="1018.6" cy="220.1" r="5" fill="none" stroke="#231f20" stroke-width="1.1"/>
<circle cx="1033.5" cy="220.1" r="5" fill="none" stroke="#231f20" stroke-width="1.1"/>
<rect x="1047.4" y="204.7" width="107" height="26.7" fill="#eceeed" stroke="#231f20" stroke-width="1.1"/>
<rect x="1055.75" y="205.5" width="13.05" height="4.2" fill="#eceeed" stroke="#231f20" stroke-width="1.1"/>
<rect x="1055.75" y="226.4" width="13.05" height="4.2" fill="#eceeed" stroke="#231f20" stroke-width="1.1"/>
<line x1="1059.4" y1="209.7" x2="1059.4" y2="226.4" stroke="#231f20" stroke-width="0.9"/>
<line x1="1061.62" y1="209.7" x2="1061.62" y2="226.4" stroke="#231f20" stroke-width="0.9"/>
<line x1="1063.84" y1="209.7" x2="1063.84" y2="226.4" stroke="#231f20" stroke-width="0.9"/>
<line x1="1066.45" y1="209.7" x2="1066.45" y2="226.4" stroke="#231f20" stroke-width="0.9"/>
<rect x="1133" y="205.5" width="13.05" height="4.2" fill="#eceeed" stroke="#231f20" stroke-width="1.1"/>
<rect x="1133" y="226.4" width="13.05" height="4.2" fill="#eceeed" stroke="#231f20" stroke-width="1.1"/>
<line x1="1136.66" y1="209.7" x2="1136.66" y2="226.4" stroke="#231f20" stroke-width="0.9"/>
<line x1="1138.87" y1="209.7" x2="1138.87" y2="226.4" stroke="#231f20" stroke-width="0.9"/>
<line x1="1141.09" y1="209.7" x2="1141.09" y2="226.4" stroke="#231f20" stroke-width="0.9"/>
<line x1="1143.7" y1="209.7" x2="1143.7" y2="226.4" stroke="#231f20" stroke-width="0.9"/>
<path d="M1069.87 205.5 H1131.93 V213.51 H1126.43 V221.25 H1131.93 V230.6 H1069.87 V221.25 H1075.37 V213.51 H1069.87 Z" fill="#eceeed" stroke="#231f20" stroke-width="1.1" />
<line x1="1070.87" y1="207.7" x2="1130.93" y2="207.7" stroke="#231f20" stroke-width="1.1"/>
<line x1="1070.87" y1="228.8" x2="1130.93" y2="228.8" stroke="#231f20" stroke-width="0.9"/>
<rect x="1092.9" y="227.8" width="16" height="3" fill="#f6f7f7" stroke="#231f20" stroke-width="1.1"/>
<rect x="1078.96" y="211.21" width="3" height="3" fill="#8c8784" stroke="#231f20" stroke-width="0.9"/>
<rect x="1078.96" y="222.16" width="3" height="3" fill="#8c8784" stroke="#231f20" stroke-width="0.9"/>
<rect x="1089.5" y="211.21" width="3" height="3" fill="#8c8784" stroke="#231f20" stroke-width="0.9"/>
<rect x="1089.5" y="222.16" width="3" height="3" fill="#8c8784" stroke="#231f20" stroke-width="0.9"/>
<rect x="1100.04" y="211.21" width="3" height="3" fill="#8c8784" stroke="#231f20" stroke-width="0.9"/>
<rect x="1100.04" y="222.16" width="3" height="3" fill="#8c8784" stroke="#231f20" stroke-width="0.9"/>
<rect x="1110.58" y="211.21" width="3" height="3" fill="#8c8784" stroke="#231f20" stroke-width="0.9"/>
<rect x="1110.58" y="222.16" width="3" height="3" fill="#8c8784" stroke="#231f20" stroke-width="0.9"/>
<rect x="1121.12" y="211.21" width="3" height="3" fill="#8c8784" stroke="#231f20" stroke-width="0.9"/>
<rect x="1121.12" y="222.16" width="3" height="3" fill="#8c8784" stroke="#231f20" stroke-width="0.9"/>
<rect x="1023.4" y="241.1" width="10.3" height="7.2" rx="1" fill="#eceeed" stroke="#231f20" stroke-width="1.1"/>
<rect x="1041.6" y="241.1" width="10.3" height="7.2" rx="1" fill="#eceeed" stroke="#231f20" stroke-width="1.1"/>
<rect x="1059.8" y="241.1" width="10.3" height="7.2" rx="1" fill="#eceeed" stroke="#231f20" stroke-width="1.1"/>
<rect x="1078" y="241.1" width="10.3" height="7.2" rx="1" fill="#eceeed" stroke="#231f20" stroke-width="1.1"/>
<rect x="1096.2" y="241.1" width="10.3" height="7.2" rx="1" fill="#eceeed" stroke="#231f20" stroke-width="1.1"/>
<rect x="1114.4" y="241.1" width="10.3" height="7.2" rx="1" fill="#eceeed" stroke="#231f20" stroke-width="1.1"/>
<rect x="1132.6" y="241.1" width="10.3" height="7.2" rx="1" fill="#eceeed" stroke="#231f20" stroke-width="1.1"/>
<rect x="1150.8" y="241.1" width="10.3" height="7.2" rx="1" fill="#eceeed" stroke="#231f20" stroke-width="1.1"/>
<rect x="1019.7" y="250" width="16.8" height="69.9" fill="#eceeed" stroke="#231f20" stroke-width="1.1"/>
<line x1="1020.9" y1="250" x2="1020.9" y2="319.9" stroke="#231f20" stroke-width="0.6"/>
<rect x="1025.7" y="250" width="5" height="3.2" fill="#eceeed" stroke="#231f20" stroke-width="0.6"/>
<rect x="1032" y="312" width="4.5" height="7.9" fill="#eceeed" stroke="#231f20" stroke-width="0.6"/>
<rect x="1037.85" y="250" width="16.8" height="69.9" fill="#eceeed" stroke="#231f20" stroke-width="1.1"/>
<line x1="1039.05" y1="250" x2="1039.05" y2="319.9" stroke="#231f20" stroke-width="0.6"/>
<rect x="1043.85" y="250" width="5" height="3.2" fill="#eceeed" stroke="#231f20" stroke-width="0.6"/>
<rect x="1050.15" y="312" width="4.5" height="7.9" fill="#eceeed" stroke="#231f20" stroke-width="0.6"/>
<rect x="1056" y="250" width="16.8" height="69.9" fill="#eceeed" stroke="#231f20" stroke-width="1.1"/>
<line x1="1057.2" y1="250" x2="1057.2" y2="319.9" stroke="#231f20" stroke-width="0.6"/>
<rect x="1062" y="250" width="5" height="3.2" fill="#eceeed" stroke="#231f20" stroke-width="0.6"/>
<rect x="1068.3" y="312" width="4.5" height="7.9" fill="#eceeed" stroke="#231f20" stroke-width="0.6"/>
<rect x="1074.15" y="250" width="16.8" height="69.9" fill="#eceeed" stroke="#231f20" stroke-width="1.1"/>
<line x1="1075.35" y1="250" x2="1075.35" y2="319.9" stroke="#231f20" stroke-width="0.6"/>
<rect x="1080.15" y="250" width="5" height="3.2" fill="#eceeed" stroke="#231f20" stroke-width="0.6"/>
<rect x="1086.45" y="312" width="4.5" height="7.9" fill="#eceeed" stroke="#231f20" stroke-width="0.6"/>
<rect x="1092.3" y="250" width="16.8" height="69.9" fill="#eceeed" stroke="#231f20" stroke-width="1.1"/>
<line x1="1093.5" y1="250" x2="1093.5" y2="319.9" stroke="#231f20" stroke-width="0.6"/>
<rect x="1098.3" y="250" width="5" height="3.2" fill="#eceeed" stroke="#231f20" stroke-width="0.6"/>
<rect x="1104.6" y="312" width="4.5" height="7.9" fill="#eceeed" stroke="#231f20" stroke-width="0.6"/>
<rect x="1110.45" y="250" width="16.8" height="69.9" fill="#eceeed" stroke="#231f20" stroke-width="1.1"/>
<line x1="1111.65" y1="250" x2="1111.65" y2="319.9" stroke="#231f20" stroke-width="0.6"/>
<rect x="1116.45" y="250" width="5" height="3.2" fill="#eceeed" stroke="#231f20" stroke-width="0.6"/>
<rect x="1122.75" y="312" width="4.5" height="7.9" fill="#eceeed" stroke="#231f20" stroke-width="0.6"/>
<rect x="1128.6" y="250" width="16.8" height="69.9" fill="#eceeed" stroke="#231f20" stroke-width="1.1"/>
<line x1="1129.8" y1="250" x2="1129.8" y2="319.9" stroke="#231f20" stroke-width="0.6"/>
<rect x="1134.6" y="250" width="5" height="3.2" fill="#eceeed" stroke="#231f20" stroke-width="0.6"/>
<rect x="1140.9" y="312" width="4.5" height="7.9" fill="#eceeed" stroke="#231f20" stroke-width="0.6"/>
<rect x="1146.75" y="250" width="16.8" height="69.9" fill="#eceeed" stroke="#231f20" stroke-width="1.1"/>
<line x1="1147.95" y1="250" x2="1147.95" y2="319.9" stroke="#231f20" stroke-width="0.6"/>
<rect x="1152.75" y="250" width="5" height="3.2" fill="#eceeed" stroke="#231f20" stroke-width="0.6"/>
<rect x="1159.05" y="312" width="4.5" height="7.9" fill="#eceeed" stroke="#231f20" stroke-width="0.6"/>
<rect x="1047.4" y="324.4" width="107" height="27.1" fill="#eceeed" stroke="#231f20" stroke-width="1.1"/>
<rect x="1055.75" y="325.2" width="13.05" height="4.2" fill="#eceeed" stroke="#231f20" stroke-width="1.1"/>
<rect x="1055.75" y="346.5" width="13.05" height="4.2" fill="#eceeed" stroke="#231f20" stroke-width="1.1"/>
<line x1="1059.4" y1="329.4" x2="1059.4" y2="346.5" stroke="#231f20" stroke-width="0.9"/>
<line x1="1061.62" y1="329.4" x2="1061.62" y2="346.5" stroke="#231f20" stroke-width="0.9"/>
<line x1="1063.84" y1="329.4" x2="1063.84" y2="346.5" stroke="#231f20" stroke-width="0.9"/>
<line x1="1066.45" y1="329.4" x2="1066.45" y2="346.5" stroke="#231f20" stroke-width="0.9"/>
<rect x="1133" y="325.2" width="13.05" height="4.2" fill="#eceeed" stroke="#231f20" stroke-width="1.1"/>
<rect x="1133" y="346.5" width="13.05" height="4.2" fill="#eceeed" stroke="#231f20" stroke-width="1.1"/>
<line x1="1136.66" y1="329.4" x2="1136.66" y2="346.5" stroke="#231f20" stroke-width="0.9"/>
<line x1="1138.87" y1="329.4" x2="1138.87" y2="346.5" stroke="#231f20" stroke-width="0.9"/>
<line x1="1141.09" y1="329.4" x2="1141.09" y2="346.5" stroke="#231f20" stroke-width="0.9"/>
<line x1="1143.7" y1="329.4" x2="1143.7" y2="346.5" stroke="#231f20" stroke-width="0.9"/>
<path d="M1069.87 325.2 H1131.93 V333.34 H1126.43 V341.2 H1131.93 V350.7 H1069.87 V341.2 H1075.37 V333.34 H1069.87 Z" fill="#eceeed" stroke="#231f20" stroke-width="1.1" />
<line x1="1070.87" y1="327.4" x2="1130.93" y2="327.4" stroke="#231f20" stroke-width="1.1"/>
<line x1="1070.87" y1="348.9" x2="1130.93" y2="348.9" stroke="#231f20" stroke-width="0.9"/>
<rect x="1092.9" y="347.9" width="16" height="3" fill="#f6f7f7" stroke="#231f20" stroke-width="1.1"/>
<rect x="1078.96" y="331.03" width="3" height="3" fill="#8c8784" stroke="#231f20" stroke-width="0.9"/>
<rect x="1078.96" y="342.14" width="3" height="3" fill="#8c8784" stroke="#231f20" stroke-width="0.9"/>
<rect x="1089.5" y="331.03" width="3" height="3" fill="#8c8784" stroke="#231f20" stroke-width="0.9"/>
<rect x="1089.5" y="342.14" width="3" height="3" fill="#8c8784" stroke="#231f20" stroke-width="0.9"/>
<rect x="1100.04" y="331.03" width="3" height="3" fill="#8c8784" stroke="#231f20" stroke-width="0.9"/>
<rect x="1100.04" y="342.14" width="3" height="3" fill="#8c8784" stroke="#231f20" stroke-width="0.9"/>
<rect x="1110.58" y="331.03" width="3" height="3" fill="#8c8784" stroke="#231f20" stroke-width="0.9"/>
<rect x="1110.58" y="342.14" width="3" height="3" fill="#8c8784" stroke="#231f20" stroke-width="0.9"/>
<rect x="1121.12" y="331.03" width="3" height="3" fill="#8c8784" stroke="#231f20" stroke-width="0.9"/>
<rect x="1121.12" y="342.14" width="3" height="3" fill="#8c8784" stroke="#231f20" stroke-width="0.9"/>
<text x="1017.4" y="337" font-family="Liberation Sans" font-size="13" font-weight="normal" text-anchor="middle" fill="#231815" transform="rotate(-90 1017.4 337)" >Y413</text>
<line x1="983.7" y1="140.1" x2="983.7" y2="188" stroke="#231f20" stroke-width="0.9"/>
<line x1="1201.7" y1="140.1" x2="1201.7" y2="188" stroke="#231f20" stroke-width="0.9"/>
<line x1="983.7" y1="142.1" x2="1201.7" y2="142.1" stroke="#231f20" stroke-width="1.1"/>
<path d="M983.7 142.1 L998.7 140.3 L998.7 143.9 Z" fill="#231f20" stroke="#231f20" stroke-width="0.3" />
<path d="M1201.7 142.1 L1186.7 143.9 L1186.7 140.3 Z" fill="#231f20" stroke="#231f20" stroke-width="0.3" />
<text x="1093.7" y="138.7" font-family="Liberation Sans" font-size="15.3" font-weight="normal" text-anchor="middle" fill="#231815" >65</text>
<line x1="1000.5" y1="164.6" x2="1000.5" y2="258" stroke="#231f20" stroke-width="0.9"/>
<line x1="1188.3" y1="164.6" x2="1188.3" y2="290" stroke="#231f20" stroke-width="0.9"/>
<line x1="997.5" y1="263" x2="997.5" y2="293.3" stroke="#231f20" stroke-width="0.7"/>
<line x1="1000.5" y1="166.6" x2="1188.3" y2="166.6" stroke="#231f20" stroke-width="1.1"/>
<path d="M1000.5 166.6 L1015.5 164.8 L1015.5 168.4 Z" fill="#231f20" stroke="#231f20" stroke-width="0.3" />
<path d="M1188.3 166.6 L1173.3 168.4 L1173.3 164.8 Z" fill="#231f20" stroke="#231f20" stroke-width="0.3" />
<text x="1093.7" y="163.9" font-family="Liberation Sans" font-size="15.3" font-weight="normal" text-anchor="middle" fill="#231815" >57</text>
<line x1="1201.7" y1="188" x2="1248" y2="188" stroke="#231f20" stroke-width="0.9"/>
<line x1="1201.7" y1="368" x2="1228" y2="368" stroke="#231f20" stroke-width="0.9"/>
<line x1="1134.5" y1="377.9" x2="1248" y2="377.9" stroke="#231f20" stroke-width="0.9"/>
<line x1="1225.4" y1="188" x2="1225.4" y2="368" stroke="#231f20" stroke-width="1.1"/>
<path d="M1227.2 203 L1225.4 188 L1223.6 203" fill="none" stroke="#231f20" stroke-width="1.1" />
<path d="M1223.6 353 L1225.4 368 L1227.2 353" fill="none" stroke="#231f20" stroke-width="1.1" />
<text x="1222.8" y="278" font-family="Liberation Sans" font-size="15.3" font-weight="normal" text-anchor="middle" fill="#231815" transform="rotate(-90 1222.8 278)" >54</text>
<line x1="1245.3" y1="188" x2="1245.3" y2="377.9" stroke="#231f20" stroke-width="1.1"/>
<path d="M1247.1 203 L1245.3 188 L1243.5 203" fill="none" stroke="#231f20" stroke-width="1.1" />
<path d="M1243.5 362.9 L1245.3 377.9 L1247.1 362.9" fill="none" stroke="#231f20" stroke-width="1.1" />
<text x="1243.2" y="278" font-family="Liberation Sans" font-size="15.3" font-weight="normal" text-anchor="middle" fill="#231815" transform="rotate(-90 1243.2 278)" >57</text>
<path d="M1009.8 250.8 L984.6 303.4 H968" fill="none" stroke="#231f20" stroke-width="0.9" />
<path d="M1001.2 258.6 L1003.6 264.2 L1006.9 259.6" fill="none" stroke="#231f20" stroke-width="0.9" />
<path d="M990.6 292.2 L991.7 286.3 L987.9 290.3" fill="none" stroke="#231f20" stroke-width="0.9" />
<text x="982.4" y="276" font-family="Liberation Sans" font-size="14.8" font-weight="normal" text-anchor="middle" fill="#231815" transform="rotate(-90 982.4 276)" textLength="46" lengthAdjust="spacingAndGlyphs">2-φ4.4</text>
<line x1="1262.5" y1="140" x2="1262.5" y2="328" stroke="#231f20" stroke-width="0.9"/>
<line x1="1401.4" y1="140" x2="1401.4" y2="189" stroke="#231f20" stroke-width="0.9"/>
<line x1="1262.5" y1="142" x2="1401.4" y2="142" stroke="#231f20" stroke-width="1.1"/>
<path d="M1262.5 142 L1277.5 140.2 L1277.5 143.8 Z" fill="#231f20" stroke="#231f20" stroke-width="0.3" />
<path d="M1401.4 142 L1386.4 143.8 L1386.4 140.2 Z" fill="#231f20" stroke="#231f20" stroke-width="0.3" />
<text x="1336.8" y="139" font-family="Liberation Sans" font-size="15.3" font-weight="normal" text-anchor="middle" fill="#231815" >43</text>
<line x1="1342.8" y1="164.7" x2="1342.8" y2="189" stroke="#231f20" stroke-width="0.9"/>
<line x1="1342.8" y1="166.7" x2="1401.4" y2="166.7" stroke="#231f20" stroke-width="1.1"/>
<path d="M1342.8 166.7 L1357.8 164.9 L1357.8 168.5 Z" fill="#231f20" stroke="#231f20" stroke-width="0.3" />
<path d="M1401.4 166.7 L1386.4 168.5 L1386.4 164.9 Z" fill="#231f20" stroke="#231f20" stroke-width="0.3" />
<text x="1371.2" y="164" font-family="Liberation Sans" font-size="15.3" font-weight="normal" text-anchor="middle" fill="#231815" >18</text>
<path d="M1291.2 205.5 H1342.8 V231.9 H1291.2 V227 H1296 V210.5 H1291.2 Z" fill="#eceeed" stroke="#231f20" stroke-width="1.1" />
<path d="M1296 205.5 V231.9" fill="none" stroke="#231f20" stroke-width="1.1" />
<rect x="1262.5" y="210.5" width="33.5" height="16.5" fill="#eceeed" stroke="#231f20" stroke-width="1.1"/>
<line x1="1272.4" y1="210.5" x2="1272.4" y2="227" stroke="#231f20" stroke-width="1.1"/>
<line x1="1264.5" y1="210.5" x2="1264.5" y2="227" stroke="#231f20" stroke-width="0.6"/>
<line x1="1322.4" y1="205.5" x2="1322.4" y2="231.9" stroke="#231f20" stroke-width="1.1"/>
<path d="M1302.7 231.9 L1332.3 240 H1342.8" fill="none" stroke="#231f20" stroke-width="1.1" />
<rect x="1332.3" y="241.7" width="10.5" height="6.6" fill="#eceeed" stroke="#231f20" stroke-width="1.1"/>
<rect x="1306.6" y="248.3" width="36.2" height="69.7" fill="#eceeed" stroke="#231f20" stroke-width="1.1"/>
<rect x="1291.7" y="322.6" width="51" height="26.2" fill="#eceeed" stroke="#231f20" stroke-width="1.1"/>
<line x1="1322.6" y1="322.6" x2="1322.6" y2="348.8" stroke="#231f20" stroke-width="1.1"/>
<rect x="1262.4" y="327.8" width="33.6" height="15.5" fill="#eceeed" stroke="#231f20" stroke-width="1.1"/>
<line x1="1272.2" y1="327.8" x2="1272.2" y2="343.3" stroke="#231f20" stroke-width="1.1"/>
<line x1="1264.4" y1="327.8" x2="1264.4" y2="343.3" stroke="#231f20" stroke-width="0.6"/>
<path d="M1342.8 192 Q1342.8 189 1345.8 189 H1398.4 Q1401.4 189 1401.4 192 V218 H1392.7 V247 H1401.4 V306.5 H1392.7 V335.5 H1401.4 V361.9 Q1401.4 364.9 1398.4 364.9 H1345.8 Q1342.8 364.9 1342.8 361.9 Z" fill="#eceeed" stroke="#231f20" stroke-width="1.1" />
<path d="M1401.4 218 L1398.4 224 L1394.7 224 L1394.7 218" fill="none" stroke="#231f20" stroke-width="0.9" />
<path d="M1401.4 335.5 L1398.4 329.5 L1394.7 329.5 L1394.7 335.5" fill="none" stroke="#231f20" stroke-width="0.9" />
<rect x="1392.7" y="364.9" width="8.7" height="10.2" fill="#eceeed" stroke="#231f20" stroke-width="1.1"/>
<line x1="1395.2" y1="364.9" x2="1395.2" y2="375.1" stroke="#231f20" stroke-width="0.6"/>
<circle cx="1379.13" cy="203.2" r="10" fill="#eceeed" stroke="#231f20" stroke-width="1.1"/>
<path d="M1377.23 197.6 H1381.03 V201.3 H1384.73 V205.1 H1381.03 V208.8 H1377.23 V205.1 H1373.53 V201.3 H1377.23 Z" fill="none" stroke="#231f20" stroke-width="1.1" />
<circle cx="1379.13" cy="351" r="10" fill="#eceeed" stroke="#231f20" stroke-width="1.1"/>
<path d="M1377.23 345.4 H1381.03 V349.1 H1384.73 V352.9 H1381.03 V356.6 H1377.23 V352.9 H1373.53 V349.1 H1377.23 Z" fill="none" stroke="#231f20" stroke-width="1.1" />
<rect x="1342.8" y="263.9" width="15.3" height="26.9" fill="#eceeed" stroke="#231f20" stroke-width="1.1"/>
<rect x="1365.8" y="238.5" width="15.5" height="77.3" fill="#eceeed" stroke="#231f20" stroke-width="1.1"/>
<text x="1377.6" y="277" font-family="Liberation Sans" font-size="12.5" font-weight="bold" text-anchor="middle" fill="#231815" transform="rotate(-90 1377.6 277)" textLength="35.5" lengthAdjust="spacingAndGlyphs" stroke="#231815" stroke-width="0.35">SIRON</text>
<rect x="1339" y="382.2" width="19.1" height="4.3" fill="#231f20" stroke="#231f20" stroke-width="0"/>
<text x="15.4" y="417.8" font-family="Liberation Sans" font-size="11" fill="#2a70b8" textLength="532.6" lengthAdjust="spacingAndGlyphs">Note: Y411/Y411-P and Y412/Y412-P outline drawing size are the same,Y410-t is a shrapnel type relay.</text>
<line x1="15.6" y1="425.2" x2="636" y2="425.2" stroke="#858585" stroke-width="1.1" stroke-dasharray="3.6 1.9"/>
<circle cx="22.1" cy="442.7" r="6.2" fill="#e60012" stroke="#231f20" stroke-width="0"/>
<circle cx="22.1" cy="461.3" r="6.2" fill="#e60012" stroke="#231f20" stroke-width="0"/>
<text x="36.6" y="447.2" font-family="Liberation Sans" font-size="15" fill="#231815" textLength="442.2" lengthAdjust="spacingAndGlyphs">Screw Mounting:use M4*16 screw,screw hole depth≥ 3mm.</text>
<text x="36.6" y="465.8" font-family="Liberation Sans" font-size="15" fill="#231815" textLength="329.2" lengthAdjust="spacingAndGlyphs">DIN Rail Mounting:Standard 35mm DIN RAIL.</text>
<g style="mix-blend-mode:multiply">
<g fill="#e8e8e8" stroke="#e8e8e8" stroke-width="10" stroke-linejoin="round" font-family="Liberation Sans" font-weight="bold" font-size="116.28">
<path transform="translate(319.4 217.3) rotate(-28.5)" stroke="none" fill-rule="evenodd" d="M301.0 -45.0 a73 47 0 1 0 146 0 a73 47 0 1 0 -146 0 Z M346.0 -47.0 a40 25 0 1 0 80 0 a40 25 0 1 0 -80 0 Z"/>
<text x="0" y="0" transform="translate(319.4 217.3) rotate(-28.5) translate(-0.4 0) scale(1.622 1)">S</text>
<text x="0" y="0" transform="translate(319.4 217.3) rotate(-28.5) translate(120.7 0) scale(2.131 1)">i</text>
<text x="0" y="0" transform="translate(319.4 217.3) rotate(-28.5) translate(179.1 0) scale(1.395 1)">R</text>
<text x="0" y="0" transform="translate(319.4 217.3) rotate(-28.5) translate(430.1 0) scale(1.536 1)">N</text>
<path transform="translate(571.4 649.3) rotate(-28.5)" stroke="none" fill-rule="evenodd" d="M301.0 -45.0 a73 47 0 1 0 146 0 a73 47 0 1 0 -146 0 Z M346.0 -47.0 a40 25 0 1 0 80 0 a40 25 0 1 0 -80 0 Z"/>
<text x="0" y="0" transform="translate(571.4 649.3) rotate(-28.5) translate(-0.4 0) scale(1.622 1)">S</text>
<text x="0" y="0" transform="translate(571.4 649.3) rotate(-28.5) translate(120.7 0) scale(2.131 1)">i</text>
<text x="0" y="0" transform="translate(571.4 649.3) rotate(-28.5) translate(179.1 0) scale(1.395 1)">R</text>
<text x="0" y="0" transform="translate(571.4 649.3) rotate(-28.5) translate(430.1 0) scale(1.536 1)">N</text>
<path transform="translate(1401.4 171.5) rotate(-28.5)" stroke="none" fill-rule="evenodd" d="M301.0 -45.0 a73 47 0 1 0 146 0 a73 47 0 1 0 -146 0 Z M346.0 -47.0 a40 25 0 1 0 80 0 a40 25 0 1 0 -80 0 Z"/>
<text x="0" y="0" transform="translate(1401.4 171.5) rotate(-28.5) translate(-0.4 0) scale(1.622 1)">S</text>
<text x="0" y="0" transform="translate(1401.4 171.5) rotate(-28.5) translate(120.7 0) scale(2.131 1)">i</text>
<text x="0" y="0" transform="translate(1401.4 171.5) rotate(-28.5) translate(179.1 0) scale(1.395 1)">R</text>
<text x="0" y="0" transform="translate(1401.4 171.5) rotate(-28.5) translate(430.1 0) scale(1.536 1)">N</text>
</g>
<g transform="translate(384 259) rotate(-28.5) scale(0.800) translate(-50 -50)" fill="none" stroke="#e8e8e8" stroke-width="6.88" stroke-linecap="butt">
<path d="M14 12 V60 Q14 82 5 95"/>
<path d="M14 12 H40 V88 Q40 94 33 92"/>
<path d="M14 38 H40"/>
<path d="M14 62 H40"/>
<path d="M60 8 Q57 25 49 38"/>
<path d="M53 32 H94"/>
<path d="M72 10 V92"/>
<path d="M57 60 H91"/>
<path d="M47 92 H97"/>
</g>
<g transform="translate(527 172) rotate(-28.5) scale(0.800) translate(-50 -50)" fill="none" stroke="#e8e8e8" stroke-width="6.88" stroke-linecap="butt">
<path d="M8 15 H92"/>
<path d="M32 4 V27"/>
<path d="M68 4 V27"/>
<path d="M28 36 V62"/>
<path d="M42 33 V62"/>
<path d="M63 32 Q60 42 54 50"/>
<path d="M58 45 H92"/>
<path d="M71 52 L77 60"/>
<path d="M15 70 H85 V93"/>
<path d="M15 70 V93"/>
<path d="M38 70 V93"/>
<path d="M62 70 V93"/>
<path d="M5 95 H95"/>
</g>
<g transform="translate(675 89) rotate(-28.5) scale(0.800) translate(-50 -50)" fill="none" stroke="#e8e8e8" stroke-width="6.88" stroke-linecap="butt">
<path d="M14 22 H80 V70 H14 Z"/>
<path d="M14 46 H80"/>
<path d="M47 5 V82 Q47 92 60 92 H90 Q96 92 96 80"/>
</g>
<g transform="translate(821 -3) rotate(-28.5) scale(0.800) translate(-50 -50)" fill="none" stroke="#e8e8e8" stroke-width="6.88" stroke-linecap="butt">
<path d="M30 4 Q22 25 6 40"/>
<path d="M24 20 H86"/>
<path d="M28 40 H76"/>
<path d="M18 58 H80 Q82 85 97 94"/>
</g>
<g transform="translate(1074 435) rotate(-28.5) scale(0.800) translate(-50 -50)" fill="none" stroke="#e8e8e8" stroke-width="6.88" stroke-linecap="butt">
<path d="M30 4 Q22 25 6 40"/>
<path d="M24 20 H86"/>
<path d="M28 40 H76"/>
<path d="M18 58 H80 Q82 85 97 94"/>
</g>
<g transform="translate(927 521) rotate(-28.5) scale(0.800) translate(-50 -50)" fill="none" stroke="#e8e8e8" stroke-width="6.88" stroke-linecap="butt">
<path d="M14 22 H80 V70 H14 Z"/>
<path d="M14 46 H80"/>
<path d="M47 5 V82 Q47 92 60 92 H90 Q96 92 96 80"/>
</g>
</g>
</svg>
</body></html>
